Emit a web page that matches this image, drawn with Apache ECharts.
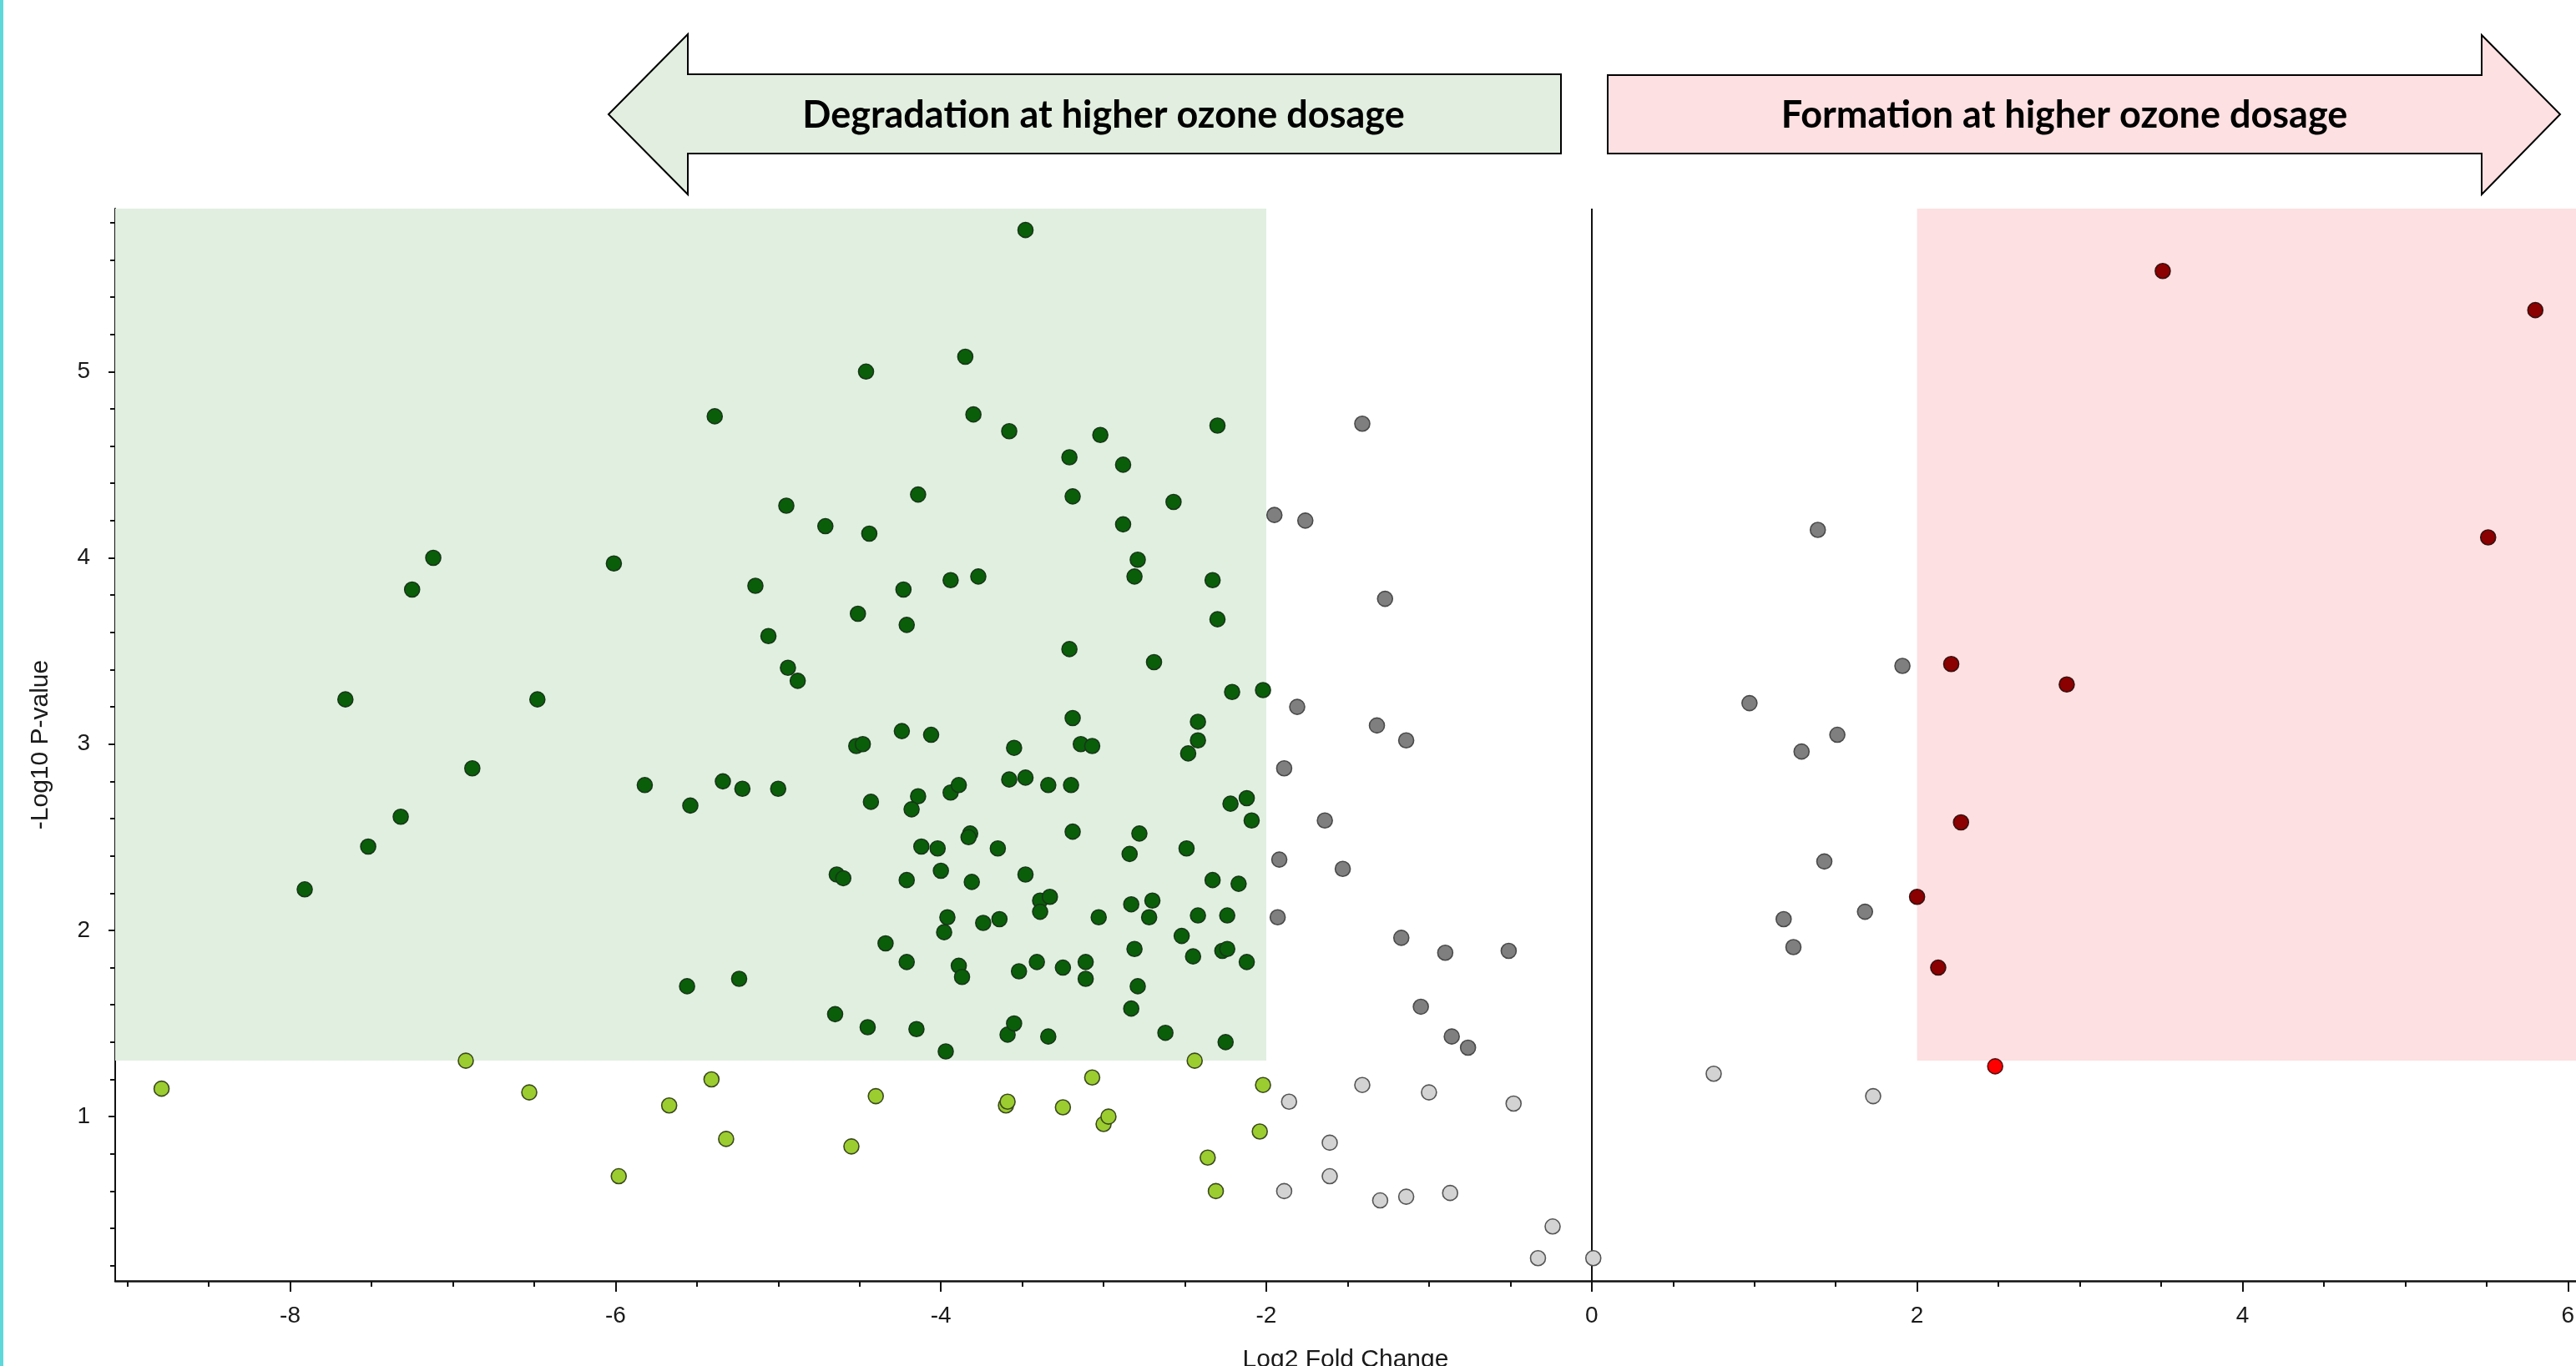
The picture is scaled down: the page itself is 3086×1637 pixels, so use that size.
<!DOCTYPE html>
<html>
<head>
<meta charset="utf-8">
<script src="https://cdn.jsdelivr.net/npm/echarts@6/dist/echarts.min.js"></script>
<style>
html,body{margin:0;padding:0;background:#fff;overflow:hidden;}
#chart{width:3086px;height:1637px;}
</style>
</head>
<body>
<div id="chart"></div>
<script>
// ---- data (log2 fold change, -log10 p-value) ----
const degradedSig = [
[-5.39,4.76],[-4.95,4.28],[-4.71,4.17],[-4.44,4.13],[-7.12,4.00],[-7.25,3.83],[-6.01,3.97],[-5.14,3.85],[-4.51,3.70],[-5.06,3.58],[-4.94,3.41],[-4.88,3.34],[-7.66,3.24],[-6.48,3.24],[-4.52,2.99],[-4.48,3.00],[-6.88,2.87],[-5.82,2.78],[-5.34,2.80],[-5.22,2.76],[-5.00,2.76],[-5.54,2.67],[-4.43,2.69],[-7.32,2.61],[-7.52,2.45],[-7.91,2.22],[-4.64,2.30],[-4.60,2.28],[-5.56,1.70],[-5.24,1.74],[-4.65,1.55],[-4.45,1.48],[-4.46,5.00],
[-3.48,5.76],[-3.85,5.08],[-3.80,4.77],[-3.58,4.68],[-3.02,4.66],[-2.30,4.71],[-3.21,4.54],[-2.88,4.50],[-4.14,4.34],[-3.19,4.33],[-2.57,4.30],[-2.88,4.18],[-2.79,3.99],[-2.81,3.90],[-2.33,3.88],[-3.94,3.88],[-3.77,3.90],[-4.23,3.83],[-4.21,3.64],[-2.30,3.67],[-3.21,3.51],[-2.69,3.44],[-2.21,3.28],[-2.02,3.29],[-3.19,3.14],[-2.42,3.12],[-4.24,3.07],[-4.06,3.05],[-3.55,2.98],[-3.14,3.00],[-3.07,2.99],[-2.42,3.02],[-2.48,2.95],
[-4.14,2.72],[-4.18,2.65],[-3.94,2.74],[-3.89,2.78],[-3.58,2.81],[-3.48,2.82],[-3.34,2.78],[-3.20,2.78],[-2.22,2.68],[-2.12,2.71],[-2.09,2.59],[-3.19,2.53],[-2.78,2.52],[-3.82,2.52],[-3.83,2.50],[-4.12,2.45],[-4.02,2.44],[-3.65,2.44],[-2.84,2.41],[-2.49,2.44],[-4.21,2.27],[-4.00,2.32],[-3.81,2.26],[-3.48,2.30],[-2.33,2.27],[-2.17,2.25],[-3.39,2.16],[-3.33,2.18],[-3.39,2.10],[-2.83,2.14],[-2.70,2.16],[-3.96,2.07],[-3.98,1.99],[-3.74,2.04],[-3.64,2.06],[-3.03,2.07],[-2.72,2.07],[-2.42,2.08],[-2.24,2.08],[-4.34,1.93],[-2.52,1.97],[-4.21,1.83],[-3.89,1.81],[-3.87,1.75],[-3.52,1.78],[-3.41,1.83],[-3.25,1.80],[-3.11,1.83],[-3.11,1.74],[-2.81,1.90],[-2.79,1.70],[-2.83,1.58],[-2.45,1.86],[-2.27,1.89],[-2.24,1.90],[-2.12,1.83],[-4.15,1.47],[-3.59,1.44],[-3.55,1.50],[-3.34,1.43],[-3.97,1.35],[-2.62,1.45],[-2.25,1.40]
];
const degradedNotSig = [
[-8.79,1.15],[-6.92,1.30],[-6.53,1.13],[-5.67,1.06],[-5.41,1.20],[-5.32,0.88],[-5.98,0.68],[-4.55,0.84],[-4.40,1.11],[-2.44,1.30],[-3.07,1.21],[-2.02,1.17],[-3.60,1.06],[-3.59,1.08],[-3.25,1.05],[-3.00,0.96],[-2.97,1.00],[-2.04,0.92],[-2.36,0.78],[-2.31,0.60]
];
const smallChangeSig = [
[-1.41,4.72],[-1.95,4.23],[-1.76,4.20],[-1.27,3.78],[-1.81,3.20],[-1.32,3.10],[-1.14,3.02],[-1.89,2.87],[-1.64,2.59],[-1.92,2.38],[-1.53,2.33],[-1.93,2.07],[-1.17,1.96],[-0.90,1.88],[-0.51,1.89],[-1.05,1.59],[-0.86,1.43],[-0.76,1.37],
[1.39,4.15],[1.91,3.42],[0.97,3.22],[1.51,3.05],[1.29,2.96],[1.43,2.37],[1.18,2.06],[1.68,2.10],[1.24,1.91]
];
const smallChangeNotSig = [
[-1.41,1.17],[-1.00,1.13],[-0.48,1.07],[-1.86,1.08],[-1.61,0.86],[-1.61,0.68],[-1.89,0.60],[-1.30,0.55],[-1.14,0.57],[-0.87,0.59],[-0.24,0.41],[-0.33,0.24],[0.01,0.24],[0.75,1.23],[1.73,1.11]
];
const formedSig = [
[3.51,5.54],[5.80,5.33],[5.51,4.11],[2.21,3.43],[2.92,3.32],[2.27,2.58],[2.00,2.18],[2.13,1.80]
];
const formedNotSig = [[2.48,1.27]];

const xTickValues = [-8,-6,-4,-2,0,2,4,6];
const xMinorTicks = [-9,-8.5,-7.5,-7,-6.5,-5.5,-5,-4.5,-3.5,-3,-2.5,-1.5,-1,-0.5,0.5,1,1.5,2.5,3,3.5,4.5,5,5.5];
const yTickValues = [1,2,3,4,5];
const yMinorTicks = [0.2,0.4,0.6,0.8,1.2,1.4,1.6,1.8,2.2,2.4,2.6,2.8,3.2,3.4,3.6,3.8,4.2,4.4,4.6,4.8,5.2,5.4,5.6,5.8];

const xRange = [-9.075, 6.05];
const yRange = [0.118, 5.875];
const fcThreshold = 2;
const pThreshold = 1.301;

const leftArrowText = 'Degradation at higher ozone dosage';
const rightArrowText = 'Formation at higher ozone dosage';
const xAxisTitle = 'Log2 Fold Change';
const yAxisTitle = '-Log10 P-value';

// ---- chart ----
const chart = echarts.init(document.getElementById('chart'), null, {renderer: 'canvas'});
const labelFont = {fontFamily: 'Liberation Sans, Arial, sans-serif', color: '#1a1a1a'};

function pointSeries(name, data, fill, border) {
  return {
    name, type: 'scatter', data, z: 5,
    symbol: 'circle', symbolSize: 18,
    itemStyle: {color: fill, borderColor: border, borderWidth: 1.6, opacity: 1},
    emphasis: {disabled: true}, animation: false
  };
}

const option = {
  animation: false,
  backgroundColor: '#ffffff',
  grid: {left: 138, right: 0, top: 250, bottom: 102, containLabel: false, outerBoundsMode: 'none'},
  xAxis: [{
    type: 'value', min: xRange[0], max: xRange[1],
    name: xAxisTitle, nameLocation: 'middle', nameGap: 80,
    nameTextStyle: Object.assign({fontSize: 30}, labelFont),
    axisLine: {show: true, onZero: false, lineStyle: {color: '#111', width: 2.5}},
    axisTick: {show: true, customValues: xTickValues, length: 13, inside: false, lineStyle: {color: '#111', width: 2}},
    axisLabel: Object.assign({show: true, customValues: xTickValues, fontSize: 28, margin: 28}, labelFont),
    splitLine: {show: false}
  }, {
    type: 'value', min: xRange[0], max: xRange[1], position: 'bottom',
    axisLine: {show: false, onZero: false},
    axisTick: {show: true, customValues: xMinorTicks, length: 7, lineStyle: {color: '#111', width: 2}},
    axisLabel: {show: false},
    splitLine: {show: false}
  }],
  yAxis: [{
    type: 'value', min: yRange[0], max: yRange[1],
    name: yAxisTitle, nameLocation: 'middle', nameGap: 74, nameRotate: 90,
    nameTextStyle: Object.assign({fontSize: 30}, labelFont),
    axisLine: {show: true, onZero: false, lineStyle: {color: '#111', width: 2}},
    axisTick: {show: true, customValues: yTickValues, length: 8, lineStyle: {color: '#111', width: 2}},
    axisLabel: Object.assign({show: true, customValues: yTickValues, fontSize: 28, margin: 30}, labelFont),
    splitLine: {show: false}
  }, {
    type: 'value', min: yRange[0], max: yRange[1], position: 'left',
    axisLine: {show: false, onZero: false},
    axisTick: {show: true, customValues: yMinorTicks, length: 6, lineStyle: {color: '#111', width: 2}},
    axisLabel: {show: false},
    splitLine: {show: false}
  }],
  series: [
    {
      name: 'regions', type: 'scatter', data: [], z: 1, silent: true,
      markArea: {
        silent: true,
        data: [
          [{xAxis: xRange[0], yAxis: pThreshold, itemStyle: {color: '#e1efe1'}}, {xAxis: -fcThreshold, yAxis: yRange[1]}],
          [{xAxis: fcThreshold, yAxis: pThreshold, itemStyle: {color: '#fde0e1'}}, {xAxis: xRange[1], yAxis: yRange[1]}]
        ]
      },
      markLine: {
        silent: true, symbol: ['none', 'none'], label: {show: false},
        lineStyle: {color: '#111', width: 2, type: 'solid'},
        data: [[{coord: [0, yRange[0]]}, {coord: [0, yRange[1]]}]]
      }
    },
    pointSeries('Degraded, significant', degradedSig, '#0a5e0a', '#173817'),
    pointSeries('Degraded, not significant', degradedNotSig, '#9ccd30', '#3b4a1e'),
    pointSeries('Small change, significant', smallChangeSig, '#7f7f7f', '#4a4a4a'),
    pointSeries('Small change, not significant', smallChangeNotSig, '#d3d3d3', '#555555'),
    pointSeries('Formed, significant', formedSig, '#8b0000', '#3a1010'),
    pointSeries('Formed, not significant', formedNotSig, '#ff0000', '#5a1010')
  ],
  graphic: [
    {type: 'rect', left: 0, top: 0, shape: {x: 0, y: 0, width: 4, height: 1637}, style: {fill: '#5fd8da'}, silent: true},
    {type: 'polygon', shape: {points: [[729,137],[824,41],[824,89],[1870,89],[1870,184],[824,184],[824,233]]},
     style: {fill: '#e2efe0', stroke: '#000', lineWidth: 2}, silent: true},
    {type: 'polygon', shape: {points: [[1926,90],[2973,90],[2973,42],[3067,137],[2973,233],[2973,184],[1926,184]]},
     style: {fill: '#fde0e1', stroke: '#000', lineWidth: 2}, silent: true},
    {type: 'text', x: 1322, y: 138, style: {text: leftArrowText, fill: '#000', font: 'bold 45px Lato, "Open Sans", sans-serif', textAlign: 'center', textVerticalAlign: 'middle'}, silent: true},
    {type: 'text', x: 2473, y: 138, style: {text: rightArrowText, fill: '#000', font: 'bold 45px Lato, "Open Sans", sans-serif', textAlign: 'center', textVerticalAlign: 'middle'}, silent: true}
  ]
};
chart.setOption(option);
</script>
</body>
</html>
